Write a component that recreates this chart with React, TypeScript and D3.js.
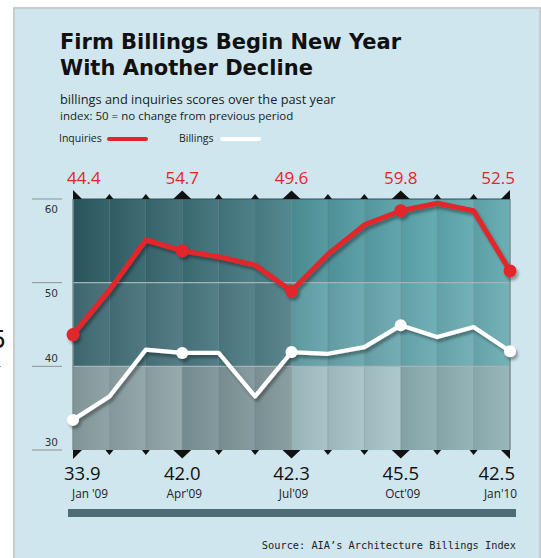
import React, { useEffect, useRef } from 'react';
import * as d3 from 'd3';

// monthly index scores, Jan '09 .. Jan '10
const months = ['Jan 09', 'Feb 09', 'Mar 09', 'Apr 09', 'May 09', 'Jun 09', 'Jul 09', 'Aug 09', 'Sep 09', 'Oct 09', 'Nov 09', 'Dec 09', 'Jan 10'];
const inquiries = [43.8, 49.1, 55.1, 53.8, 53.1, 52.1, 49.0, 53.4, 56.9, 58.6, 59.5, 58.6, 51.4];
const billings = [33.6, 36.4, 42.0, 41.6, 41.6, 36.4, 41.7, 41.5, 42.3, 44.9, 43.5, 44.7, 41.8];

// quarter annotations
const quarterMonths = ['Jan 09', 'Apr 09', 'Jul 09', 'Oct 09', 'Jan 10'];
const quarterNames = ["Jan '09", "Apr'09", "Jul'09", "Oct'09", "Jan'10"];
const inquiryLabels = ['44.4', '54.7', '49.6', '59.8', '52.5'];
const billingLabels = ['33.9', '42.0', '42.3', '45.5', '42.5'];
const yTicks = [60, 50, 40, 30];

const W = 541;
const H = 558;
const RED = '#e2252b';

// background shading per band, per quarter [left, right]
const bands = [
    { lo: 50, hi: 60, colors: [['#2b5961', '#3a6a72'], ['#3d6f77', '#4a8189'], ['#4e939b', '#58a0a7'], ['#5ca7ad', '#62abb1']] },
    { lo: 40, hi: 50, colors: [['#416c75', '#4a757e'], ['#4a7780', '#527f87'], ['#64a2aa', '#6ba8af'], ['#69abb2', '#6caeb4']] },
    { lo: 30, hi: 40, colors: [['#899ea2', '#91a5a9'], ['#7c9397', '#83999d'], ['#a2c0c4', '#a8c6ca'], ['#8cadb1', '#92b3b7']] },
];

const App = () => {
    const svgRef = useRef<SVGSVGElement>(null);

    useEffect(() => {
        const svg = d3.select(svgRef.current);
        svg.selectAll('*').remove();

        const x = d3.scalePoint<string>().domain(months).range([73, 510]);
        const y = d3.scaleLinear().domain([30, 60]).range([450, 199]);
        const top = y(60);
        const bot = y(30);

        const defs = svg.append('defs');
        const shade = defs.append('linearGradient').attr('id', 'colShade').attr('x1', 0).attr('x2', 1).attr('y1', 0).attr('y2', 0);
        shade.append('stop').attr('offset', 0).attr('stop-color', '#000').attr('stop-opacity', 0.07);
        shade.append('stop').attr('offset', 1).attr('stop-color', '#fff').attr('stop-opacity', 0.06);
        const filt = defs.append('filter').attr('id', 'shadow').attr('x', -0.1).attr('y', -0.2).attr('width', 1.2).attr('height', 1.4);
        filt.append('feDropShadow').attr('dx', 2).attr('dy', 3).attr('stdDeviation', 1.4)
            .attr('flood-color', '#000').attr('flood-opacity', 0.35);

        // page + panel
        svg.append('rect').attr('width', W).attr('height', H).attr('fill', '#fff');
        svg.append('rect').attr('x', 13).attr('y', 7).attr('width', 528).attr('height', H - 7).attr('fill', '#c9cccd');
        svg.append('rect').attr('x', 15).attr('y', 9).attr('width', 524).attr('height', H - 9).attr('fill', '#cfe6ef');

        // cropped glyphs from neighbouring page
        svg.append('text').attr('x', -9).attr('y', 348).attr('font-family', 'DejaVu Sans').attr('font-size', 24).attr('fill', '#111').text('5');
        svg.append('text').attr('x', -4).attr('y', 371).attr('font-family', 'DejaVu Sans').attr('font-size', 14).attr('fill', '#111').text('-');

        // title block
        const title = svg.append('text').attr('font-family', 'DejaVu Sans').attr('font-weight', 'bold')
            .attr('font-size', 21).attr('fill', '#111');
        title.append('tspan').attr('x', 60).attr('y', 49).text('Firm Billings Begin New Year');
        title.append('tspan').attr('x', 60).attr('y', 75).text('With Another Decline');

        svg.append('text').attr('x', 60).attr('y', 104).attr('font-family', 'Open Sans').attr('font-size', 12.8)
            .attr('fill', '#222').text('billings and inquiries scores over the past year');
        svg.append('text').attr('x', 60).attr('y', 120).attr('font-family', 'Open Sans').attr('font-size', 11.5)
            .attr('fill', '#222').text('index: 50 = no change from previous period');

        // legend
        const legend = svg.append('g').attr('font-family', 'Open Sans').attr('font-size', 10.5).attr('fill', '#222');
        legend.append('text').attr('x', 59).attr('y', 142).text('Inquiries');
        legend.append('line').attr('x1', 109).attr('x2', 146).attr('y1', 139).attr('y2', 139)
            .attr('stroke', RED).attr('stroke-width', 4).attr('stroke-linecap', 'round');
        legend.append('text').attr('x', 179).attr('y', 142).text('Billings');
        legend.append('line').attr('x1', 222).attr('x2', 259).attr('y1', 139).attr('y2', 139)
            .attr('stroke', '#fff').attr('stroke-width', 4).attr('stroke-linecap', 'round');

        // y ticks on the left
        const ticks = svg.append('g');
        ticks.selectAll('line').data(yTicks).join('line')
            .attr('x1', 32).attr('x2', 62).attr('y1', d => y(d)).attr('y2', d => y(d))
            .attr('stroke', '#8c9294').attr('stroke-width', 1);
        ticks.selectAll('text').data(yTicks).join('text')
            .attr('x', 58).attr('y', d => y(d) + (d >= 50 ? 14 : -4))
            .attr('text-anchor', 'end').attr('font-family', 'DejaVu Sans').attr('font-size', 10.5)
            .attr('fill', '#333').text(d => d);

        // shaded bands, one cell per month interval
        const plot = svg.append('g');
        bands.forEach(b => {
            for (let i = 0; i < months.length - 1; i++) {
                const q = Math.floor(i / 3);
                const c = d3.interpolateRgb(b.colors[q][0], b.colors[q][1])((i % 3) / 2);
                const x0 = x(months[i])!;
                const x1 = x(months[i + 1])!;
                plot.append('rect').attr('x', x0).attr('y', y(b.hi)).attr('width', x1 - x0)
                    .attr('height', y(b.lo) - y(b.hi)).attr('fill', c);
                plot.append('rect').attr('x', x0).attr('y', y(b.hi)).attr('width', x1 - x0)
                    .attr('height', y(b.lo) - y(b.hi)).attr('fill', 'url(#colShade)');
            }
        });

        // grid lines
        plot.selectAll('.vgrid').data(months.slice(1, -1)).join('line').attr('class', 'vgrid')
            .attr('x1', d => x(d)!).attr('x2', d => x(d)!).attr('y1', top).attr('y2', bot)
            .attr('stroke', '#2c474d').attr('stroke-opacity', 0.18).attr('stroke-width', 1);
        plot.selectAll('.hgrid').data([50, 40]).join('line').attr('class', 'hgrid')
            .attr('x1', x(months[0])!).attr('x2', x(months[12])!).attr('y1', d => y(d)).attr('y2', d => y(d))
            .attr('stroke', '#a3b3b6').attr('stroke-width', 1.2);
        plot.selectAll('.edge').data([months[0], months[12]]).join('line').attr('class', 'edge')
            .attr('x1', d => x(d)!).attr('x2', d => x(d)!).attr('y1', top).attr('y2', bot)
            .attr('stroke', '#7d8e92').attr('stroke-width', 1.5);
        plot.append('line').attr('x1', x(months[0])!).attr('x2', x(months[12])!).attr('y1', top).attr('y2', top)
            .attr('stroke', '#2f5057').attr('stroke-width', 1);

        // triangle markers above and below the plot
        const triPath = (pts: [number, number][]) => 'M' + pts.map(p => p.join(',')).join('L') + 'Z';
        const marker = (m: string, i: number, base: number, dir: number) => {
            const cx = x(m)!;
            if (i === 0) return triPath([[cx, base], [cx, base + dir * 9], [cx + 9, base]]);
            if (i === months.length - 1) return triPath([[cx, base], [cx, base + dir * 9], [cx - 9, base]]);
            if (quarterMonths.includes(m)) return triPath([[cx - 9, base], [cx, base + dir * 8.5], [cx + 9, base]]);
            return triPath([[cx - 4, base], [cx, base + dir * 5], [cx + 4, base]]);
        };
        svg.append('g').selectAll('path').data(months).join('path')
            .attr('d', (m, i) => marker(m, i, top, -1)).attr('fill', '#111');
        svg.append('g').selectAll('path').data(months).join('path')
            .attr('d', (m, i) => marker(m, i, bot, 1)).attr('fill', '#111');

        // series
        const lineGen = d3.line<number>().x((d, i) => x(months[i])!).y(d => y(d));
        const series = [
            { values: billings, color: '#ffffff', width: 4.2, r: 6 },
            { values: inquiries, color: RED, width: 5, r: 6.5 },
        ];
        series.forEach(s => {
            const g = svg.append('g').attr('filter', 'url(#shadow)');
            g.append('path').attr('d', lineGen(s.values)).attr('fill', 'none').attr('stroke', s.color)
                .attr('stroke-width', s.width).attr('stroke-linejoin', 'round').attr('stroke-linecap', 'round');
            g.selectAll('circle').data(quarterMonths).join('circle')
                .attr('cx', m => x(m)!).attr('cy', m => y(s.values[months.indexOf(m)]))
                .attr('r', s.r).attr('fill', s.color);
        });

        // quarter annotations
        const anchor = (i: number) => (i === 0 ? 'start' : i === quarterMonths.length - 1 ? 'end' : 'middle');
        const shift = (i: number) => (i === 0 ? -6 : i === quarterMonths.length - 1 ? 5 : 0);
        svg.append('g').selectAll('text').data(inquiryLabels).join('text')
            .attr('x', (d, i) => x(quarterMonths[i])! + shift(i)).attr('y', 184)
            .attr('text-anchor', (d, i) => anchor(i)).attr('font-family', 'Open Sans').attr('font-size', 17)
            .attr('fill', RED).text(d => d);
        svg.append('g').selectAll('text').data(billingLabels).join('text')
            .attr('x', (d, i) => x(quarterMonths[i])! + shift(i) - (i === 0 ? 3 : 0)).attr('y', 480)
            .attr('text-anchor', (d, i) => anchor(i)).attr('font-family', 'Open Sans').attr('font-size', 18.5)
            .attr('fill', '#111').text(d => d);
        svg.append('g').selectAll('text').data(quarterNames).join('text')
            .attr('x', (d, i) => x(quarterMonths[i])! + (i === 0 ? -1 : shift(i) + 2)).attr('y', 498)
            .attr('text-anchor', (d, i) => anchor(i)).attr('font-family', 'Open Sans').attr('font-size', 11.8)
            .attr('fill', '#222').text(d => d);

        // timeline bar
        svg.append('rect').attr('x', x(months[0])! - 5).attr('y', 509).attr('width', x(months[12])! - x(months[0])! + 11)
            .attr('height', 8).attr('fill', '#4e6c75');

        svg.append('text').attr('x', 516).attr('y', 549).attr('text-anchor', 'end')
            .attr('font-family', 'DejaVu Sans Mono').attr('font-size', 10.3).attr('fill', '#222')
            .text('Source: AIA\u2019s Architecture Billings Index');
    }, []);

    return <svg ref={svgRef} width={W} height={H} style={{ position: 'absolute', left: 0, top: 0 }} />;
};

export default App;
